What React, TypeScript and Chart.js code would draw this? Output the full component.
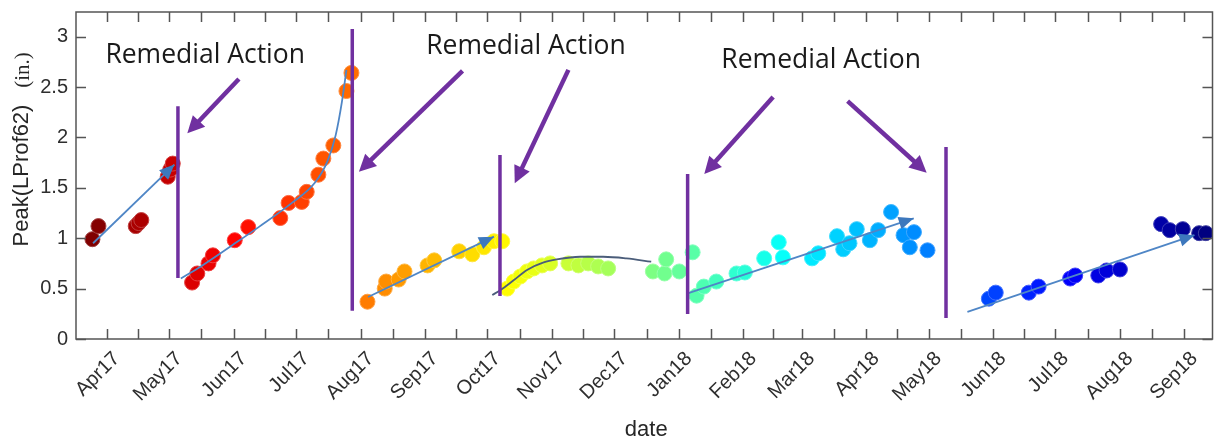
import React, { useEffect, useRef } from "react";
import { Chart, registerables } from "chart.js";
Chart.register(...registerables);

// x values are days counted from 1 Apr 2017
const monthLabels = ["Apr17", "May17", "Jun17", "Jul17", "Aug17", "Sep17", "Oct17", "Nov17", "Dec17", "Jan18", "Feb18", "Mar18", "Apr18", "May18", "Jun18", "Jul18", "Aug18", "Sep18"];
const monthStartDays = [0, 30, 61, 91, 122, 153, 183, 214, 244, 275, 306, 334, 365, 395, 426, 456, 487, 518];
const yTickValues = [0, 0.5, 1, 1.5, 2, 2.5, 3];
const xMin = -14.8;
const xMax = 531.5;
const yMax = 3.244;

// measured points: day and Peak(LProf62) in inches
const pointDays = [
  -6.9, -4.0, 13.9, 15.3, 16.6, 29.3, 30.5, 31.7,
  41.0, 43.5, 48.9, 51.0, 61.5, 68.0, 83.4, 87.4, 93.7, 96.1, 101.7, 104.1, 108.9, 115.2, 117.6,
  125.3, 133.6, 134.3, 140.3, 143.1, 154.2, 157.4, 169.4, 175.7, 181.3, 186.1, 190.1,
  192.5, 195.6, 198.8, 202.0, 205.2, 209.2, 213.1, 221.9, 226.7, 231.4, 236.2, 241.0,
  262.5, 268.1, 268.9, 275.2, 281.6,
  283.5, 287.0, 293.0, 302.7, 306.7, 316.0, 323.0, 325.0, 339.0, 342.0, 351.0, 354.0, 357.0, 360.5, 366.8, 370.8, 377.0, 383.0, 386.0, 388.0, 394.5,
  424.0, 427.3, 443.2, 447.9, 463.1, 465.5, 476.6, 480.6, 487.0, 506.8, 510.9, 517.2, 525.1, 528.3,
];
const pointPeak = [
  0.99, 1.12, 1.12, 1.15, 1.18, 1.61, 1.68, 1.74,
  0.56, 0.65, 0.75, 0.83, 0.98, 1.11, 1.20, 1.35, 1.36, 1.46, 1.63, 1.79, 1.92, 2.46, 2.64,
  0.37, 0.50, 0.57, 0.59, 0.67, 0.73, 0.78, 0.87, 0.84, 0.91, 0.97, 0.97,
  0.50, 0.57, 0.62, 0.67, 0.70, 0.73, 0.75, 0.75, 0.73, 0.75, 0.72, 0.70,
  0.67, 0.65, 0.79, 0.67, 0.86,
  0.43, 0.52, 0.57, 0.65, 0.66, 0.80, 0.96, 0.81, 0.80, 0.85, 1.02, 0.89, 0.95, 1.09, 0.98, 1.08, 1.26, 1.03, 0.91, 1.06, 0.88,
  0.40, 0.46, 0.46, 0.52, 0.60, 0.63, 0.63, 0.68, 0.69, 1.14, 1.08, 1.09, 1.05, 1.05,
];

// trend lines
const trend1Days = [-6.6, 32.5];
const trend1Peak = [0.95, 1.73];
const trend2Days = [35.6, 45.2, 60.3, 73, 89, 100, 106, 110, 113, 115.2];
const trend2Peak = [0.60, 0.72, 0.93, 1.11, 1.35, 1.55, 1.76, 2.02, 2.35, 2.67];
const trend3Days = [125.6, 186.1];
const trend3Peak = [0.417, 1.015];
const trend4Days = [185.3, 189.3, 195.7, 202, 210, 216.3, 227.5, 238.6, 249.8, 261.7];
const trend4Peak = [0.437, 0.486, 0.585, 0.685, 0.76, 0.79, 0.816, 0.816, 0.80, 0.767];
const trend5Days = [279.2, 387.9];
const trend5Peak = [0.453, 1.197];
const trend6Days = [413.7, 522.8];
const trend6Peak = [0.27, 1.03];

// remedial action markers
const vlineDays = [34.2, 118, 189, 279.2, 403.4];
const vlineTop = [2.31, 3.075, 1.825, 1.637, 1.905];
const vlineBottom = [0.605, 0.28, 0.427, 0.248, 0.208];

const arrowFromDays = [63.5, 171, 221.9, 320.3, 356.1];
const arrowFromPeak = [2.58, 2.66, 2.67, 2.40, 2.36];
const arrowToDays = [38.7, 121.2, 196.1, 287.2, 394.1];
const arrowToPeak = [2.04, 1.66, 1.545, 1.637, 1.65];

const labelText = ["Remedial Action", "Remedial Action", "Remedial Action"];
const labelDays = [47.3, 201.5, 343.4];
const labelPeak = [2.741, 2.824, 2.686];

const PURPLE = "#7030a0";
const TREND = "#4f86c6";
const TREND_HEAD = "#3d78bd";
const TREND_DARK = "#4b5d7a";
const AXIS = "#555555";
const TEXT = "#2e2e2e";

function clamp01(v: number) {
  return Math.max(0, Math.min(1, v));
}
function jet(t: number, lighten = 0) {
  const r = clamp01(1.5 - Math.abs(4 * t - 3));
  const g = clamp01(1.5 - Math.abs(4 * t - 2));
  const b = clamp01(1.5 - Math.abs(4 * t - 1));
  const f = (c: number) => Math.round(255 * (c + (1 - c) * lighten));
  return `rgb(${f(r)},${f(g)},${f(b)})`;
}

function drawHead(ctx: CanvasRenderingContext2D, x1: number, y1: number, x2: number, y2: number, len: number, w: number, color: string) {
  const a = Math.atan2(y2 - y1, x2 - x1);
  const ux = Math.cos(a), uy = Math.sin(a);
  const bx = x2 - ux * len, by = y2 - uy * len;
  ctx.beginPath();
  ctx.moveTo(x2, y2);
  ctx.lineTo(bx - uy * w / 2, by + ux * w / 2);
  ctx.lineTo(bx + uy * w / 2, by - ux * w / 2);
  ctx.closePath();
  ctx.fillStyle = color;
  ctx.fill();
}

const minorTickDays = monthStartDays.slice(0, -1).map((d, i) => (d + monthStartDays[i + 1]) / 2);

const overlayPlugin = {
  id: "overlay",
  afterDatasetsDraw(chart: any) {
    const { ctx, scales } = chart;
    const x = scales.x, y = scales.y;
    ctx.save();
    chart.data.datasets.forEach((ds: any, i: number) => {
      if (!ds.arrowHead) return;
      const pts = chart.getDatasetMeta(i).data;
      const n = pts.length;
      drawHead(ctx, pts[n - 2].x, pts[n - 2].y, pts[n - 1].x, pts[n - 1].y, 15, 13, TREND_HEAD);
    });
    for (let i = 0; i < arrowFromDays.length; i++) {
      const x1 = x.getPixelForValue(arrowFromDays[i]);
      const y1 = y.getPixelForValue(arrowFromPeak[i]);
      const x2 = x.getPixelForValue(arrowToDays[i]);
      const y2 = y.getPixelForValue(arrowToPeak[i]);
      const a = Math.atan2(y2 - y1, x2 - x1);
      const len = 17;
      ctx.beginPath();
      ctx.moveTo(x1, y1);
      ctx.lineTo(x2 - Math.cos(a) * (len - 3), y2 - Math.sin(a) * (len - 3));
      ctx.strokeStyle = PURPLE;
      ctx.lineWidth = 4.5;
      ctx.lineCap = "butt";
      ctx.stroke();
      drawHead(ctx, x1, y1, x2, y2, len, 17, PURPLE);
    }
    ctx.fillStyle = "#1a1a1a";
    ctx.font = '26.5px "Open Sans"';
    ctx.textAlign = "center";
    ctx.textBaseline = "alphabetic";
    for (let i = 0; i < labelText.length; i++) {
      ctx.fillText(labelText[i], x.getPixelForValue(labelDays[i]), y.getPixelForValue(labelPeak[i]));
    }
    ctx.restore();
  },
  afterDraw(chart: any) {
    const { ctx, chartArea, scales } = chart;
    const x = scales.x, y = scales.y;
    const { left, right, top, bottom } = chartArea;
    ctx.save();
    ctx.strokeStyle = AXIS;
    ctx.lineWidth = 1.5;
    ctx.strokeRect(left, top, right - left, bottom - top);
    const tl = 10;
    ctx.beginPath();
    [...monthStartDays, ...minorTickDays].forEach((d) => {
      const px = Math.round(x.getPixelForValue(d)) + 0.5;
      ctx.moveTo(px, bottom);
      ctx.lineTo(px, bottom - tl);
      ctx.moveTo(px, top);
      ctx.lineTo(px, top + tl);
    });
    yTickValues.forEach((v) => {
      const py = Math.round(y.getPixelForValue(v)) + 0.5;
      ctx.moveTo(left, py);
      ctx.lineTo(left + tl, py);
      ctx.moveTo(right, py);
      ctx.lineTo(right - tl, py);
    });
    ctx.stroke();
    ctx.fillStyle = "#262626";
    ctx.textAlign = "center";
    ctx.textBaseline = "alphabetic";
    ctx.font = '22px "Liberation Sans", Arial, sans-serif';
    ctx.fillText("date", (left + right) / 2 + 2, 436);
    ctx.save();
    ctx.translate(28, (top + bottom) / 2);
    ctx.rotate(-Math.PI / 2);
    ctx.fillText("Peak(LProf62)", 0, 0);
    ctx.restore();
    ctx.save();
    ctx.translate(29, 70);
    ctx.rotate(-Math.PI / 2);
    ctx.font = '21px "Liberation Serif", "Times New Roman", serif';
    ctx.fillText("(in.)", 0, 0);
    ctx.restore();
    ctx.restore();
  },
};

export default function App() {
  const ref = useRef<HTMLCanvasElement | null>(null);
  useEffect(() => {
    if (!ref.current) return;
    const tMax = Math.max(...pointDays);
    const tMin = Math.min(...pointDays);
    const fill = pointDays.map((d) => jet((tMax - d) / (tMax - tMin)));
    const edge = pointDays.map((d) => jet((tMax - d) / (tMax - tMin), 0.25));
    const pts = pointDays.map((d, i) => ({ x: d, y: pointPeak[i] }));
    const mk = (days: number[], vals: number[]) => days.map((d, i) => ({ x: d, y: vals[i] }));
    const lineDs = (data: any[], color: string, extra: any = {}) => ({
      type: "line",
      data,
      showLine: true,
      borderColor: color,
      borderWidth: 1.8,
      pointRadius: 0,
      fill: false,
      order: 1,
      ...extra,
    });
    const vlines = vlineDays.map((d, i) => ({
      type: "line",
      data: [{ x: d, y: vlineBottom[i] }, { x: d, y: vlineTop[i] }],
      showLine: true,
      borderColor: PURPLE,
      borderWidth: 3.5,
      pointRadius: 0,
      fill: false,
      order: 0,
    }));
    const chart = new Chart(ref.current, {
      type: "scatter",
      data: {
        datasets: [
          ...vlines,
          lineDs(mk(trend1Days, trend1Peak), TREND, { arrowHead: true }),
          lineDs(mk(trend2Days, trend2Peak), TREND, { cubicInterpolationMode: "monotone" }),
          lineDs(mk(trend3Days, trend3Peak), TREND, { arrowHead: true }),
          lineDs(mk(trend4Days, trend4Peak), TREND_DARK, { cubicInterpolationMode: "monotone" }),
          lineDs(mk(trend5Days, trend5Peak), TREND, { arrowHead: true }),
          lineDs(mk(trend6Days, trend6Peak), TREND, { arrowHead: true }),
          {
            type: "scatter",
            data: pts,
            backgroundColor: fill,
            borderColor: edge,
            borderWidth: 1,
            pointRadius: 7.5,
            order: 2,
          },
        ] as any,
      },
      options: {
        animation: false,
        responsive: true,
        maintainAspectRatio: false,
        devicePixelRatio: 1,
        events: [],
        layout: { padding: { top: 12, right: 1, left: 0, bottom: 0 } },
        plugins: { legend: { display: false }, tooltip: { enabled: false } },
        scales: {
          x: {
            type: "linear",
            min: xMin,
            max: xMax,
            grid: { display: false, drawTicks: false },
            border: { display: false },
            afterBuildTicks: (scale: any) => {
              scale.ticks = monthStartDays.map((v) => ({ value: v }));
            },
            afterFit: (scale: any) => {
              scale.height = 102;
              scale.paddingLeft = 0;
              scale.paddingRight = 0;
            },
            ticks: {
              autoSkip: false,
              minRotation: 45,
              maxRotation: 45,
              padding: 8,
              labelOffset: 10,
              color: TEXT,
              font: { family: '"Liberation Sans", Arial, sans-serif', size: 20 },
              callback: (v: any) => {
                const i = monthStartDays.indexOf(Number(v));
                return i >= 0 ? monthLabels[i] : "";
              },
            },
          },
          y: {
            type: "linear",
            min: 0,
            max: yMax,
            grid: { display: false, drawTicks: false },
            border: { display: false },
            afterBuildTicks: (scale: any) => {
              scale.ticks = yTickValues.map((v) => ({ value: v }));
            },
            afterFit: (scale: any) => {
              scale.width = 76;
              scale.paddingTop = 0;
              scale.paddingBottom = 0;
            },
            ticks: {
              padding: 8,
              color: TEXT,
              font: { family: '"Liberation Sans", Arial, sans-serif', size: 20 },
              callback: (v: any) => String(v),
            },
          },
        },
      } as any,
      plugins: [overlayPlugin],
    });
    return () => chart.destroy();
  }, []);
  return (
    <div style={{ position: "absolute", left: 0, top: 0, width: 1217, height: 441, overflow: "hidden", background: "#fff" }}>
      <div style={{ position: "relative", width: 1221, height: 441 }}>
        <canvas ref={ref} />
      </div>
    </div>
  );
}
